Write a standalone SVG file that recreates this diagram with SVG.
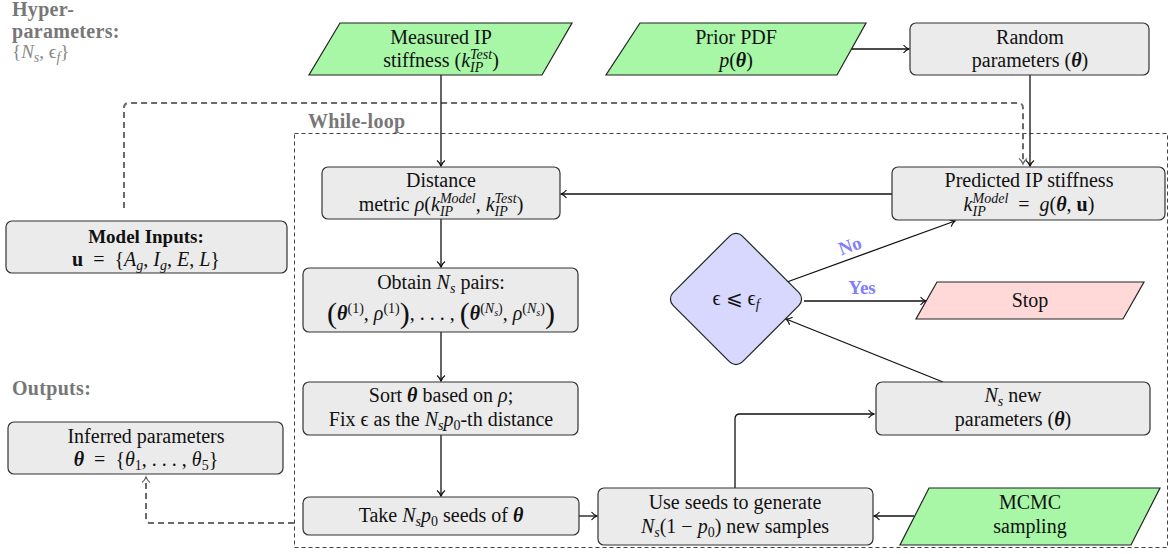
<svg xmlns="http://www.w3.org/2000/svg" width="1173" height="554" viewBox="0 0 1173 554">
<style>
text{font-family:"Liberation Serif","DejaVu Serif",serif}
.t{font-size:20px;fill:#111;text-anchor:middle}
.i{font-style:italic}
.b{font-weight:bold}
.bi{font-weight:bold;font-style:italic}
.s{font-size:14px}
.ss{font-size:10px}
.box{fill:#ebebeb;stroke:#333;stroke-width:1.2}
.gin{fill:#a7f7a7;stroke:#222;stroke-width:1.2}
.stop{fill:#ffd8d8;stroke:#222;stroke-width:1.2}
.dec{fill:#d8d8ff;stroke:#222;stroke-width:1.2}
.c{fill:none;stroke:#111;stroke-width:1.3;marker-end:url(#ab)}
.cd{fill:none;stroke:#6a6a6a;stroke-width:2;stroke-dasharray:6,4;marker-end:url(#ag)}
.lbl{font-size:20px;font-weight:bold;fill:#777;letter-spacing:0.3px}
.yn{font-size:19px;font-weight:bold;fill:#8080ff;text-anchor:middle}
</style>
<defs>
<marker id="ab" markerUnits="userSpaceOnUse" markerWidth="12" markerHeight="12" refX="0" refY="0" viewBox="-7 -6 8 12" orient="auto">
<path d="M-5.5,-4 C-3.5,-1.5 -1.2,-0.4 0,0 C-1.2,0.4 -3.5,1.5 -5.5,4" fill="none" stroke="#111" stroke-width="1.2"/>
</marker>
<marker id="ag" markerUnits="userSpaceOnUse" markerWidth="12" markerHeight="12" refX="0" refY="0" viewBox="-7 -6 8 12" orient="auto">
<path d="M-5.5,-4 C-3.5,-1.5 -1.2,-0.4 0,0 C-1.2,0.4 -3.5,1.5 -5.5,4" fill="none" stroke="#6a6a6a" stroke-width="1.2"/>
</marker>
</defs>

<g id="labels">
<text class="lbl" x="12" y="16">Hyper-</text>
<text class="lbl" x="12" y="38">parameters:</text>
<text x="12" y="58" style="font-size:19px;fill:#888">{<tspan class="i">N</tspan><tspan class="i s" baseline-shift="-4">s</tspan>, ϵ<tspan class="i s" baseline-shift="-4">f</tspan>}</text>
<text class="lbl" x="12" y="395">Outputs:</text>
<text class="lbl" x="308" y="128">While-loop</text>
</g>

<rect id="while-loop" x="294.5" y="133.5" width="873" height="414" fill="none" stroke="#444" stroke-width="1" stroke-dasharray="4,3"/>

<g id="connectors">
<path class="cd" d="M124,208 L124,108 Q124,103 129,103 L1018,103 Q1023,103 1023,108 L1023,164"/>
<path class="cd" d="M294,523 L151,523 Q146,523 146,518 L146,477"/>
<path class="c" d="M441,75 L441,166"/>
<path class="c" d="M851,49 L909,49"/>
<path class="c" d="M1030,75 L1030,166"/>
<path class="c" d="M892,194 L561,194"/>
<path class="c" d="M441,219 L441,267"/>
<path class="c" d="M441,332 L441,381"/>
<path class="c" d="M441,435 L441,496"/>
<path class="c" d="M579,516 L597,516"/>
<path class="c" d="M914,516 L874,516"/>
<path class="c" d="M735,488 L735,419 Q735,414 740,414 L874,414"/>
<path class="c" d="M943,382 L786,319"/>
<path class="c" d="M787,282 L955,221"/>
<path class="c" d="M804,301 L926,301"/>
<text class="yn" x="850" y="252" transform="rotate(-20 850 246)">No</text>
<text class="yn" x="862" y="294">Yes</text>
</g>

<g id="measured">
<polygon class="gin" points="340,23 572,23 542,75 309,75"/>
<text class="t" x="441" y="44">Measured IP</text>
<text class="t" x="441" y="67">stiffness (<tspan class="i">k</tspan><tspan class="i s" baseline-shift="-5">IP</tspan><tspan class="i s" dx="-13.2" baseline-shift="8">Test</tspan>)</text>
</g>

<g id="prior">
<polygon class="gin" points="640,23 866,23 837,75 606,75"/>
<text class="t" x="736" y="44">Prior PDF</text>
<text class="t" x="736" y="67"><tspan class="i">p</tspan>(<tspan class="bi">θ</tspan>)</text>
</g>

<g id="random">
<rect class="box" x="910" y="23" width="239" height="52" rx="6"/>
<text class="t" x="1030" y="44">Random</text>
<text class="t" x="1030" y="67">parameters (<tspan class="bi">θ</tspan>)</text>
</g>

<g id="distance">
<rect class="box" x="322" y="167" width="238" height="52" rx="6"/>
<text class="t" x="441" y="187">Distance</text>
<text class="t" x="441" y="211">metric <tspan class="i">ρ</tspan>(<tspan class="i">k</tspan><tspan class="i s" baseline-shift="-5">IP</tspan><tspan class="i s" dx="-13.2" baseline-shift="8">Model</tspan>, <tspan class="i">k</tspan><tspan class="i s" baseline-shift="-5">IP</tspan><tspan class="i s" dx="-13.2" baseline-shift="8">Test</tspan>)</text>
</g>

<g id="predicted">
<rect class="box" x="892" y="167" width="273" height="53" rx="6"/>
<text class="t" x="1029" y="187">Predicted IP stiffness</text>
<text class="t" x="1029" y="211"><tspan class="i">k</tspan><tspan class="i s" baseline-shift="-5">IP</tspan><tspan class="i s" dx="-13.2" baseline-shift="8">Model</tspan>&#160;&#160;=&#160;&#160;<tspan class="i">g</tspan>(<tspan class="bi">θ</tspan>, <tspan class="b">u</tspan>)</text>
</g>

<g id="model-inputs">
<rect class="box" x="6" y="221" width="281" height="52" rx="6"/>
<text class="t b" x="146" y="243" style="font-size:19px">Model Inputs:</text>
<text class="t" x="146" y="266"><tspan class="b">u</tspan>&#160;&#160;=&#160;&#160;{<tspan class="i">A</tspan><tspan class="i s" baseline-shift="-4">g</tspan>, <tspan class="i">I</tspan><tspan class="i s" baseline-shift="-4">g</tspan>, <tspan class="i">E</tspan>, <tspan class="i">L</tspan>}</text>
</g>

<g id="obtain">
<rect class="box" x="303" y="268" width="275" height="64" rx="6"/>
<text class="t" x="441" y="289">Obtain <tspan class="i">N</tspan><tspan class="i s" baseline-shift="-4">s</tspan> pairs:</text>
<text class="t" x="441" y="320"><tspan font-size="30" baseline-shift="-3">(</tspan><tspan class="bi">θ</tspan><tspan class="s" baseline-shift="7">(1)</tspan>, <tspan class="i">ρ</tspan><tspan class="s" baseline-shift="7">(1)</tspan><tspan font-size="30" baseline-shift="-3">)</tspan>, . . . , <tspan font-size="30" baseline-shift="-3">(</tspan><tspan class="bi">θ</tspan><tspan class="s" baseline-shift="7">(<tspan class="i">N</tspan><tspan class="i ss" baseline-shift="-3">s</tspan>)</tspan>, <tspan class="i">ρ</tspan><tspan class="s" baseline-shift="7">(<tspan class="i">N</tspan><tspan class="i ss" baseline-shift="-3">s</tspan>)</tspan><tspan font-size="30" baseline-shift="-3">)</tspan></text>
</g>

<g id="decision">
<rect class="dec" x="-49" y="-49" width="98" height="98" rx="9" transform="translate(736 299) rotate(45)"/>
<text class="t" x="736" y="305">ϵ ⩽ ϵ<tspan class="i s" baseline-shift="-4">f</tspan></text>
</g>

<g id="stop">
<polygon class="stop" points="937,282 1144,282 1123,319 916,319"/>
<text class="t" x="1030" y="307">Stop</text>
</g>

<g id="sort">
<rect class="box" x="303" y="382" width="275" height="53" rx="6"/>
<text class="t" x="441" y="402">Sort <tspan class="bi">θ</tspan> based on <tspan class="i">ρ</tspan>;</text>
<text class="t" x="441" y="426">Fix ϵ as the <tspan class="i">N</tspan><tspan class="i s" baseline-shift="-4">s</tspan><tspan class="i">p</tspan><tspan class="s" baseline-shift="-4">0</tspan>-th distance</text>
</g>

<g id="new-params">
<rect class="box" x="876" y="382" width="274" height="53" rx="6"/>
<text class="t" x="1013" y="402"><tspan class="i">N</tspan><tspan class="i s" baseline-shift="-4">s</tspan> new</text>
<text class="t" x="1013" y="426">parameters (<tspan class="bi">θ</tspan>)</text>
</g>

<g id="inferred">
<rect class="box" x="8" y="422" width="275" height="52" rx="6"/>
<text class="t" x="146" y="443">Inferred parameters</text>
<text class="t" x="146" y="466"><tspan class="bi">θ</tspan>&#160;&#160;=&#160;&#160;{<tspan class="i">θ</tspan><tspan class="s" baseline-shift="-4">1</tspan>, . . . , <tspan class="i">θ</tspan><tspan class="s" baseline-shift="-4">5</tspan>}</text>
</g>

<g id="take">
<rect class="box" x="303" y="497" width="276" height="38" rx="6"/>
<text class="t" x="441" y="522">Take <tspan class="i">N</tspan><tspan class="i s" baseline-shift="-4">s</tspan><tspan class="i">p</tspan><tspan class="s" baseline-shift="-4">0</tspan> seeds of <tspan class="bi">θ</tspan></text>
</g>

<g id="use-seeds">
<rect class="box" x="598" y="488" width="275" height="57" rx="6"/>
<text class="t" x="735" y="509">Use seeds to generate</text>
<text class="t" x="735" y="533"><tspan class="i">N</tspan><tspan class="i s" baseline-shift="-4">s</tspan>(1 − <tspan class="i">p</tspan><tspan class="s" baseline-shift="-4">0</tspan>) new samples</text>
</g>

<g id="mcmc">
<polygon class="gin" points="929,488 1160,488 1131,545 900,545"/>
<text class="t" x="1030" y="509">MCMC</text>
<text class="t" x="1030" y="533">sampling</text>
</g>
</svg>
